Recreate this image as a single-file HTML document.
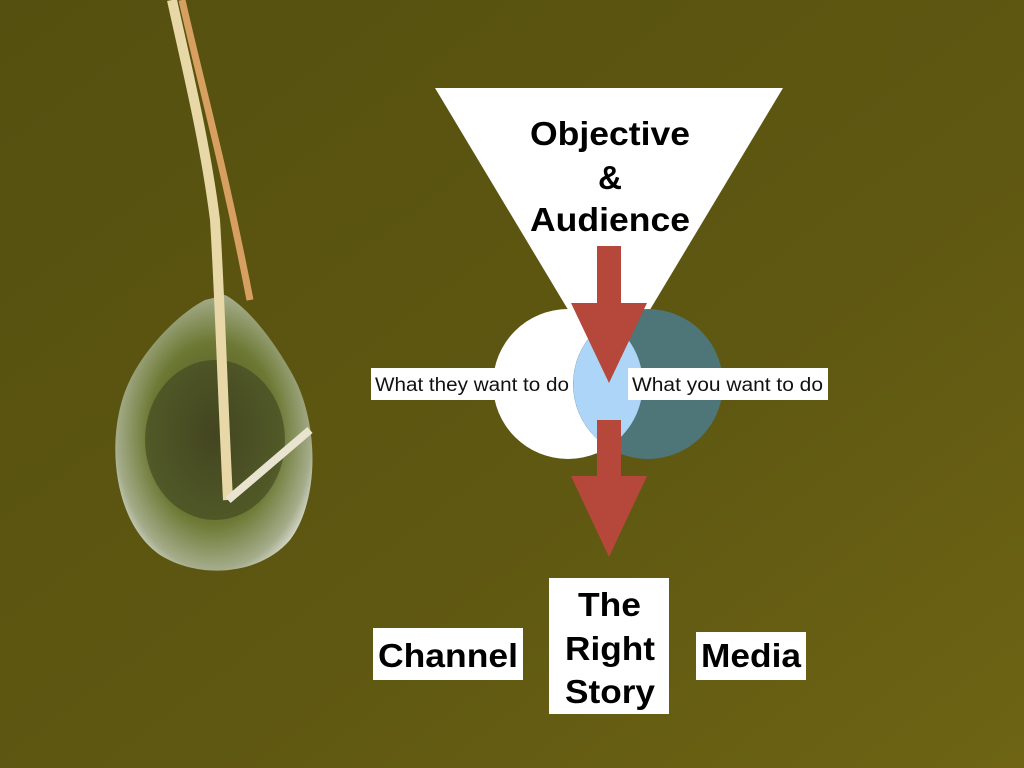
<!DOCTYPE html>
<html><head><meta charset="utf-8"><style>
html,body{margin:0;padding:0;width:1024px;height:768px;overflow:hidden;background:#5a5410}
svg{display:block}
text{font-family:"Liberation Sans",Arial,sans-serif}
</style></head><body>
<svg width="1024" height="768" viewBox="0 0 1024 768" xmlns="http://www.w3.org/2000/svg">
<defs>
<linearGradient id="bg" x1="0" y1="0" x2="1" y2="1">
<stop offset="0" stop-color="#55500f"/><stop offset="0.6" stop-color="#5f5812"/><stop offset="1" stop-color="#6e6414"/>
</linearGradient>
<radialGradient id="drop" cx="0.5" cy="0.5" r="0.55">
<stop offset="0" stop-color="#4a4a22"/><stop offset="0.6" stop-color="#6d7a35"/><stop offset="0.9" stop-color="#a8b090"/><stop offset="1" stop-color="#d8dcd0"/>
</radialGradient>
</defs>
<rect width="1024" height="768" fill="url(#bg)"/>
<!-- drop -->
<path d="M205,300 C185,310 150,340 130,380 C105,430 110,520 160,555 C200,580 260,575 290,540 C320,500 320,420 290,370 C270,335 245,305 225,295 Z" fill="url(#drop)" opacity="0.95"/>
<ellipse cx="215" cy="440" rx="70" ry="80" fill="#3d4220" opacity="0.6"/>
<path d="M172,0 C185,60 205,140 215,220 C220,300 222,380 228,500" stroke="#e8d8a8" stroke-width="10" fill="none"/>
<path d="M182,0 C200,80 225,170 250,300" stroke="#d8a060" stroke-width="7" fill="none"/>
<path d="M228,500 L310,430" stroke="#e8e4d0" stroke-width="8" fill="none"/>
<!-- triangle -->
<polygon points="435,88 783,88 609,378" fill="#ffffff"/>
<!-- circles -->
<circle cx="568" cy="384" r="75" fill="#ffffff"/>
<circle cx="648" cy="384" r="75" fill="#4e7577"/>
<path d="M608,320.7 A75,75 0 0,1 608,447.3 A75,75 0 0,1 608,320.7 Z" fill="#acd5f8"/>
<!-- labels -->
<rect x="371" y="368" width="202" height="32" fill="#fff"/>
<text x="375" y="391" font-size="19" fill="#111" textLength="194" lengthAdjust="spacingAndGlyphs">What they want to do</text>
<rect x="628" y="368" width="200" height="32" fill="#fff"/>
<text x="632" y="391" font-size="19" fill="#111" textLength="191" lengthAdjust="spacingAndGlyphs">What you want to do</text>
<!-- arrows -->
<polygon points="597,246 621,246 621,303 647,303 609,383 571,303 597,303" fill="#b5483a"/>
<polygon points="597,420 621,420 621,476 647,476 609,557 571,476 597,476" fill="#b5483a"/>
<!-- title -->
<g font-size="33" font-weight="bold" fill="#000">
<text x="530" y="145" textLength="160" lengthAdjust="spacingAndGlyphs">Objective</text>
<text x="598" y="189" textLength="24" lengthAdjust="spacingAndGlyphs">&amp;</text>
<text x="530" y="231" textLength="160" lengthAdjust="spacingAndGlyphs">Audience</text>
</g>
<!-- bottom -->
<rect x="373" y="628" width="150" height="52" fill="#fff"/>
<rect x="549" y="578" width="120" height="136" fill="#fff"/>
<rect x="696" y="632" width="110" height="48" fill="#fff"/>
<g font-size="33" font-weight="bold" fill="#000">
<text x="378" y="667" textLength="140" lengthAdjust="spacingAndGlyphs">Channel</text>
<text x="578" y="616" textLength="63" lengthAdjust="spacingAndGlyphs">The</text>
<text x="565" y="660" textLength="90" lengthAdjust="spacingAndGlyphs">Right</text>
<text x="565" y="703" textLength="90" lengthAdjust="spacingAndGlyphs">Story</text>
<text x="701" y="667" textLength="100" lengthAdjust="spacingAndGlyphs">Media</text>
</g>
</svg>
</body></html>
